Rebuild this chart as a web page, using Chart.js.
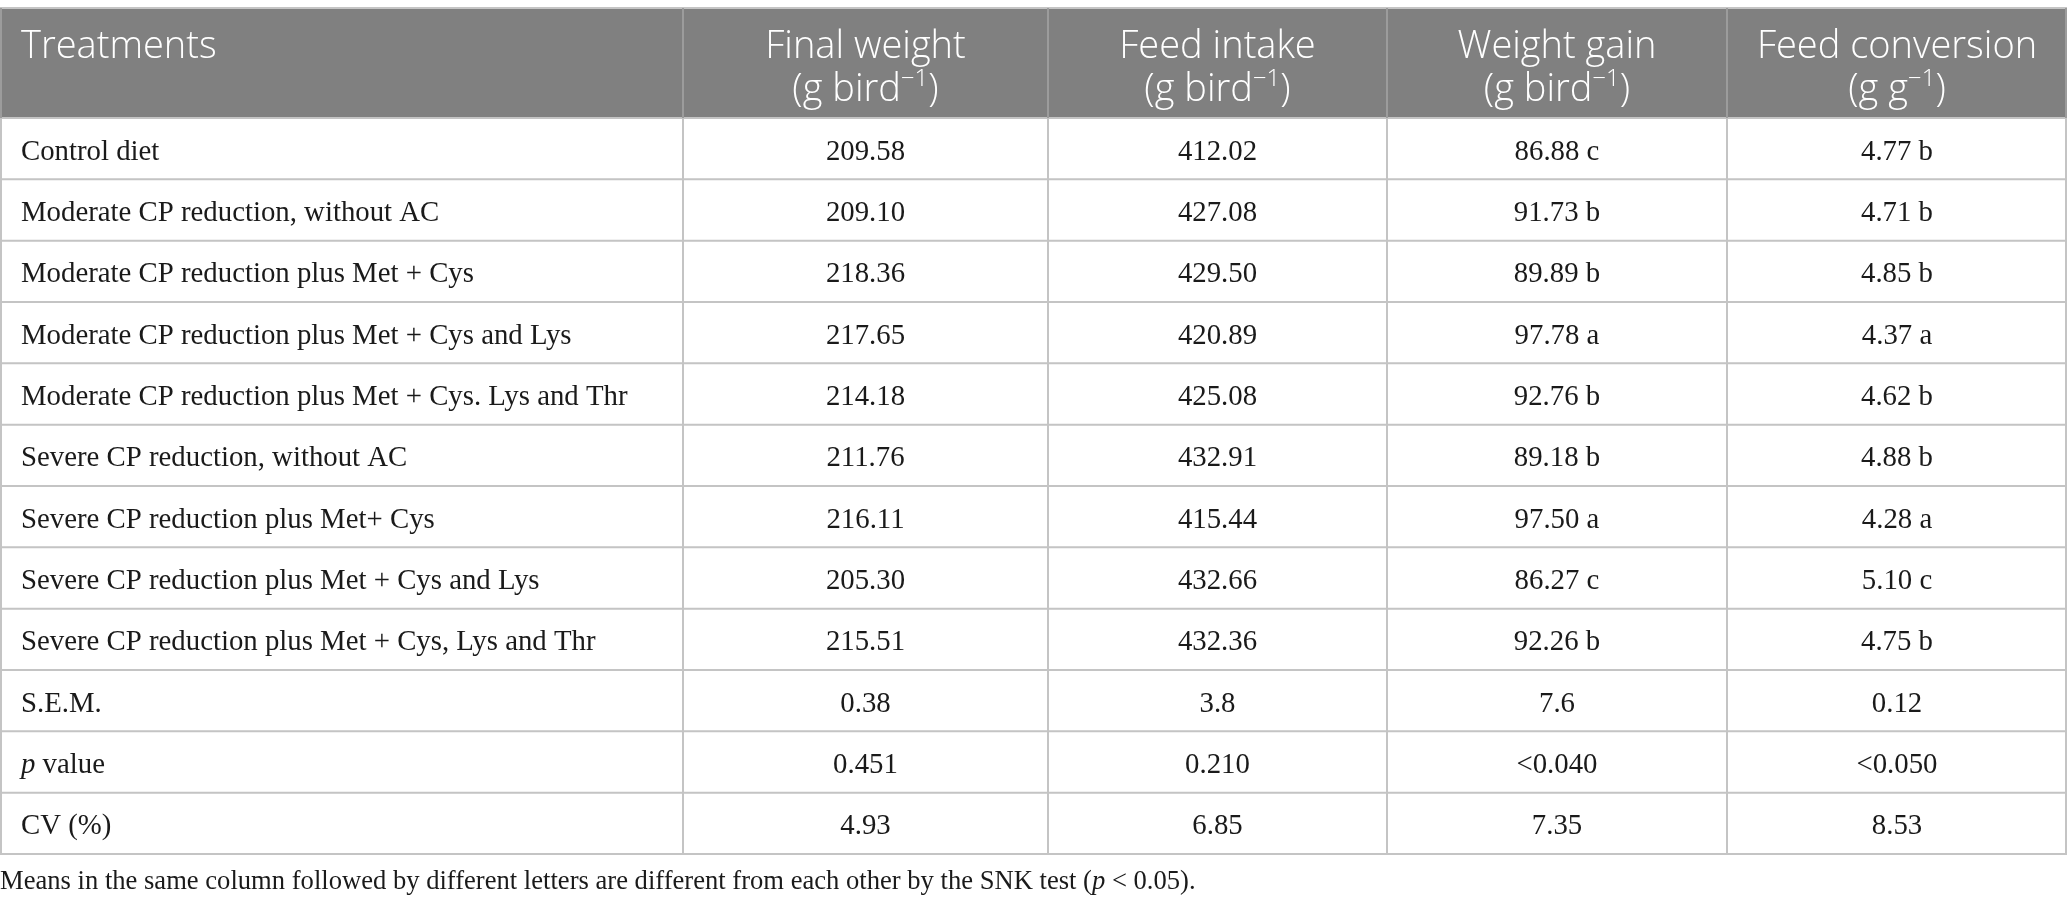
<!DOCTYPE html>
<html>
<head>
<meta charset="utf-8">
<script src="https://cdn.jsdelivr.net/npm/chart.js@4.4.1/dist/chart.umd.min.js"></script>
<style>
  html, body { margin: 0; padding: 0; background: #fff; }
  #wrap { width: 2067px; height: 911px; }
</style>
</head>
<body>
<div id="wrap"><canvas id="table" width="2067" height="911"></canvas></div>
<script>
// table content
const columns = ['Treatments', 'Final weight', 'Feed intake', 'Weight gain', 'Feed conversion'];
const units = [null, 'g bird', 'g bird', 'g bird', 'g g'];

const treatments = [
    'Control diet',
    'Moderate CP reduction, without AC',
    'Moderate CP reduction plus Met + Cys',
    'Moderate CP reduction plus Met + Cys and Lys',
    'Moderate CP reduction plus Met + Cys. Lys and Thr',
    'Severe CP reduction, without AC',
    'Severe CP reduction plus Met+ Cys',
    'Severe CP reduction plus Met + Cys and Lys',
    'Severe CP reduction plus Met + Cys, Lys and Thr'
];
const finalWeight = [209.58, 209.10, 218.36, 217.65, 214.18, 211.76, 216.11, 205.30, 215.51];
const feedIntake = [412.02, 427.08, 429.50, 420.89, 425.08, 432.91, 415.44, 432.66, 432.36];
const weightGain = [86.88, 91.73, 89.89, 97.78, 92.76, 89.18, 97.50, 86.27, 92.26];
const weightGainGroup = ['c', 'b', 'b', 'a', 'b', 'b', 'a', 'c', 'b'];
const feedConversion = [4.77, 4.71, 4.85, 4.37, 4.62, 4.88, 4.28, 5.10, 4.75];
const feedConversionGroup = ['b', 'b', 'b', 'a', 'b', 'b', 'a', 'c', 'b'];

const statLabels = ['S.E.M.', 'p value', 'CV (%)'];
const sem = ['0.38', '3.8', '7.6', '0.12'];
const pValue = ['0.451', '0.210', '<0.040', '<0.050'];
const cv = ['4.93', '6.85', '7.35', '8.53'];

const footnote = 'Means in the same column followed by different letters are different from each other by the SNK test (p < 0.05).';

// layout, in scale units
const colEdges = [0, 683, 1048, 1387, 1727, 2067];
const tableTop = 8;
const headerBottom = 118;
const rowHeight = 61.33;
const padLeft = 21;

const HEAD_FONT = '"Open Sans", "Noto Sans", sans-serif';
const BODY_FONT = '"Liberation Serif", "DejaVu Serif", serif';
const headSize = 38;
const bodySize = 28.8;
const noteSize = 26.6;

const rows = treatments.map((t, i) => [
    [{ t: t }],
    [{ t: finalWeight[i].toFixed(2) }],
    [{ t: feedIntake[i].toFixed(2) }],
    [{ t: weightGain[i].toFixed(2) + ' ' + weightGainGroup[i] }],
    [{ t: feedConversion[i].toFixed(2) + ' ' + feedConversionGroup[i] }]
]);
const statValues = [sem, pValue, cv];
statLabels.forEach((label, k) => {
    let first = label === 'p value' ? [{ t: 'p', italic: true }, { t: ' value' }] : [{ t: label }];
    rows.push([first].concat(statValues[k].map(v => [{ t: v }])));
});

// draw a list of text runs (italic / superscript) starting at x, or centred on x
function drawRuns(ctx, runs, x, y, align, size, family, color, weight) {
    const fontOf = r => (r.italic ? 'italic ' : '') + (weight || 400) + ' ' +
        (r.sup ? Math.round(size * 0.62) : size) + 'px ' + family;
    let total = 0;
    runs.forEach(r => { ctx.font = fontOf(r); total += ctx.measureText(r.t).width; });
    let cx = align === 'center' ? x - total / 2 : x;
    ctx.fillStyle = color;
    ctx.textBaseline = 'alphabetic';
    ctx.textAlign = 'left';
    runs.forEach(r => {
        ctx.font = fontOf(r);
        ctx.fillText(r.t, cx, y - (r.sup ? size * 0.38 : 0));
        cx += ctx.measureText(r.t).width;
    });
}

const tablePlugin = {
    id: 'tablePlugin',
    afterDraw(chart) {
        const ctx = chart.ctx;
        const xs = chart.scales.x, ys = chart.scales.y;
        const X = v => xs.getPixelForValue(v);
        const Y = v => ys.getPixelForValue(v);
        const nRows = rows.length;
        const bottom = headerBottom + nRows * rowHeight;

        ctx.save();
        // header band
        ctx.fillStyle = '#808080';
        ctx.fillRect(X(0), Y(tableTop), X(2067) - X(0), Y(headerBottom) - Y(tableTop));

        // header text
        columns.forEach((c, j) => {
            if (j === 0) {
                drawRuns(ctx, [{ t: c }], X(colEdges[0]) + padLeft, Y(58), 'left', headSize, HEAD_FONT, '#ffffff', 300);
            } else {
                const mid = X((colEdges[j] + colEdges[j + 1]) / 2);
                drawRuns(ctx, [{ t: c }], mid, Y(58), 'center', headSize, HEAD_FONT, '#ffffff', 300);
                drawRuns(ctx, [{ t: '(' + units[j] }, { t: '\u22121', sup: true }, { t: ')' }],
                    mid, Y(100.5), 'center', headSize, HEAD_FONT, '#ffffff', 300);
            }
        });

        // body text
        rows.forEach((r, i) => {
            const base = Y(headerBottom + i * rowHeight + rowHeight / 2 + 11);
            r.forEach((cell, j) => {
                if (j === 0) {
                    drawRuns(ctx, cell, X(colEdges[0]) + padLeft, base, 'left', bodySize, BODY_FONT, '#1a1a1a');
                } else {
                    drawRuns(ctx, cell, X((colEdges[j] + colEdges[j + 1]) / 2), base, 'center', bodySize, BODY_FONT, '#1a1a1a');
                }
            });
        });

        // grid lines
        ctx.lineWidth = 2;
        ctx.strokeStyle = '#c4c4c4';
        ctx.beginPath();
        ctx.moveTo(X(0), Y(tableTop));
        ctx.lineTo(X(2067), Y(tableTop));
        for (let i = 0; i <= nRows; i++) {
            const y = Y(headerBottom + i * rowHeight);
            ctx.moveTo(X(0), y);
            ctx.lineTo(X(2067), y);
        }
        ctx.moveTo(X(0) + 1, Y(headerBottom));
        ctx.lineTo(X(0) + 1, Y(bottom));
        ctx.moveTo(X(2067) - 1, Y(headerBottom));
        ctx.lineTo(X(2067) - 1, Y(bottom));
        for (let j = 1; j < colEdges.length - 1; j++) {
            ctx.moveTo(X(colEdges[j]), Y(headerBottom));
            ctx.lineTo(X(colEdges[j]), Y(bottom));
        }
        ctx.stroke();

        // separators inside the header
        ctx.strokeStyle = '#9c9c9c';
        ctx.beginPath();
        for (let j = 1; j < colEdges.length - 1; j++) {
            ctx.moveTo(X(colEdges[j]), Y(tableTop));
            ctx.lineTo(X(colEdges[j]), Y(headerBottom));
        }
        ctx.moveTo(X(0) + 1, Y(tableTop));
        ctx.lineTo(X(0) + 1, Y(headerBottom));
        ctx.moveTo(X(2067) - 1, Y(tableTop));
        ctx.lineTo(X(2067) - 1, Y(headerBottom));
        ctx.stroke();

        // footnote
        const parts = footnote.split('(p');
        drawRuns(ctx, [{ t: parts[0] + '(' }, { t: 'p', italic: true }, { t: parts[1] }],
            X(0), Y(889), 'left', noteSize, BODY_FONT, '#1a1a1a');
        ctx.restore();
    }
};

new Chart(document.getElementById('table'), {
    type: 'scatter',
    data: { datasets: [] },
    options: {
        responsive: false,
        animation: false,
        devicePixelRatio: 1,
        layout: { padding: 0 },
        plugins: { legend: { display: false }, tooltip: { enabled: false } },
        scales: {
            x: { type: 'linear', min: 0, max: 2067, display: false },
            y: { type: 'linear', min: 0, max: 911, reverse: true, display: false }
        }
    },
    plugins: [tablePlugin]
});
</script>
</body>
</html>
